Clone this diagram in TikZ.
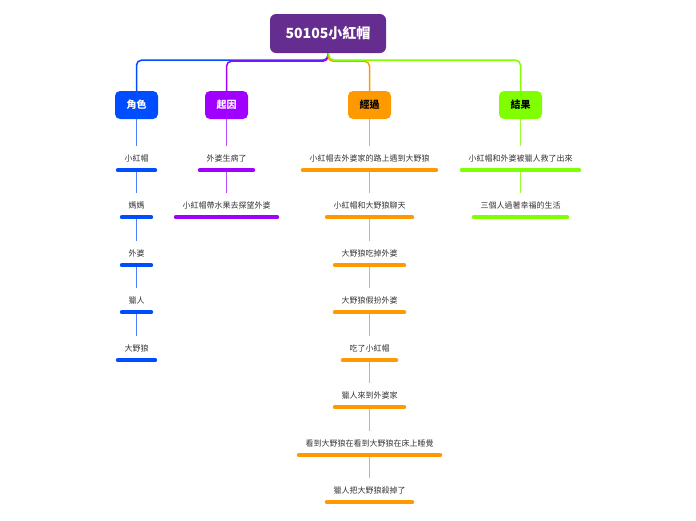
\documentclass[tikz,border=0pt]{standalone}
\usepackage{fontspec}
\setmainfont{Noto Sans CJK TC}
\usepackage{tikz}
\usetikzlibrary{arrows.meta}

\definecolor{rootc}{HTML}{662D91}
\definecolor{rolec}{HTML}{004CFF}
\definecolor{causec}{HTML}{A000FF}
\definecolor{coursec}{HTML}{FF9900}
\definecolor{endc}{HTML}{80FF00}
\definecolor{rolel}{HTML}{4D80FF}
\definecolor{causel}{HTML}{B84DFF}
\definecolor{coursel}{HTML}{FFAA33}
\definecolor{endl}{HTML}{99FF33}
\definecolor{leaftext}{HTML}{333333}

\begin{document}
\begin{tikzpicture}[x=1pt, y=-1pt,
	root/.style={fill=rootc, rounded corners=6pt, minimum width=116pt, minimum height=39pt,
		text=white, font=\fontsize{14}{16}\selectfont\bfseries},
	branch/.style={fill=#1, rounded corners=5pt, minimum width=43pt, minimum height=28pt,
		font=\fontsize{10}{12}\selectfont\bfseries},
	leaf/.style={inner xsep=6.5pt, inner ysep=8pt, text height=7pt, text depth=1pt,
		text=leaftext, font=\fontsize{8}{9}\selectfont},
	bar/.style={draw=#1, line width=4pt, line cap=round},
	trunk/.style={draw=#1, line width=1.5pt, rounded corners=5pt},
	twig/.style={draw=#1, line width=1.1pt}]
	\useasboundingbox (0,0) rectangle (696,520);
	\node[root] (top) at (328,33.5) {50105小紅帽};
	\node[branch=rolec, text=white] (role) at (136.5,105) {角色};
	\node[branch=causec, text=white] (cause) at (226.5,105) {起因};
	\node[branch=coursec, text=black] (course) at (369.5,105) {經過};
	\node[branch=endc, text=black] (end) at (520.5,105) {結果};
	\draw[trunk=rolec] (top.south) -- ++(0,7) -| (role.north);
	\draw[trunk=causec] (top.south) -- ++(0,8) -| (cause.north);
	\draw[trunk=coursec] (top.south) -- ++(0,8) -| (course.north);
	\draw[trunk=endc] ([xshift=0.8pt]top.south) -- ++(0,7) -| (end.north);
	% characters
	\node[leaf] (r1) at (136.5,158) {小紅帽};
	\node[leaf] (r2) at (136.5,205) {媽媽};
	\node[leaf] (r3) at (136.5,253) {外婆};
	\node[leaf] (r4) at (136.5,300) {獵人};
	\node[leaf] (r5) at (136.5,348) {大野狼};
	\draw[twig=rolel] (role.south) -- (r1.north);
	\draw[twig=rolel] (r1.south) -- (r2.north);
	\draw[twig=rolel] (r2.south) -- (r3.north);
	\draw[twig=rolel] (r3.south) -- (r4.north);
	\draw[twig=rolel] (r4.south) -- (r5.north);
	\draw[bar=rolec] (r1.south west) -- (r1.south east);
	\draw[bar=rolec] (r2.south west) -- (r2.south east);
	\draw[bar=rolec] (r3.south west) -- (r3.south east);
	\draw[bar=rolec] (r4.south west) -- (r4.south east);
	\draw[bar=rolec] (r5.south west) -- (r5.south east);
	% cause
	\node[leaf] (c1) at (226.5,158) {外婆生病了};
	\node[leaf] (c2) at (226.5,205) {小紅帽帶水果去探望外婆};
	\draw[twig=causel] (cause.south) -- (c1.north);
	\draw[twig=causel] (c1.south) -- (c2.north);
	\draw[bar=causec] (c1.south west) -- (c1.south east);
	\draw[bar=causec] (c2.south west) -- (c2.south east);
	% course of events
	\node[leaf] (k1) at (369.5,158) {小紅帽去外婆家的路上遇到大野狼};
	\node[leaf] (k2) at (369.5,205) {小紅帽和大野狼聊天};
	\node[leaf] (k3) at (369.5,253) {大野狼吃掉外婆};
	\node[leaf] (k4) at (369.5,300) {大野狼假扮外婆};
	\node[leaf] (k5) at (369.5,348) {吃了小紅帽};
	\node[leaf] (k6) at (369.5,395) {獵人來到外婆家};
	\node[leaf] (k7) at (369.5,443) {看到大野狼在看到大野狼在床上睡覺};
	\node[leaf] (k8) at (369.5,490) {獵人把大野狼殺掉了};
	\draw[twig=coursel] (course.south) -- (k1.north);
	\draw[twig=coursel] (k1.south) -- (k2.north);
	\draw[twig=coursel] (k2.south) -- (k3.north);
	\draw[twig=coursel] (k3.south) -- (k4.north);
	\draw[twig=coursel] (k4.south) -- (k5.north);
	\draw[twig=coursel] (k5.south) -- (k6.north);
	\draw[twig=coursel] (k6.south) -- (k7.north);
	\draw[twig=coursel] (k7.south) -- (k8.north);
	\draw[bar=coursec] (k1.south west) -- (k1.south east);
	\draw[bar=coursec] (k2.south west) -- (k2.south east);
	\draw[bar=coursec] (k3.south west) -- (k3.south east);
	\draw[bar=coursec] (k4.south west) -- (k4.south east);
	\draw[bar=coursec] (k5.south west) -- (k5.south east);
	\draw[bar=coursec] (k6.south west) -- (k6.south east);
	\draw[bar=coursec] (k7.south west) -- (k7.south east);
	\draw[bar=coursec] (k8.south west) -- (k8.south east);
	% result
	\node[leaf] (e1) at (520.5,158) {小紅帽和外婆被獵人救了出來};
	\node[leaf] (e2) at (520.5,205) {三個人過著幸福的生活};
	\draw[twig=endl] (end.south) -- (e1.north);
	\draw[twig=endl] (e1.south) -- (e2.north);
	\draw[bar=endc] (e1.south west) -- (e1.south east);
	\draw[bar=endc] (e2.south west) -- (e2.south east);
\end{tikzpicture}
\end{document}
